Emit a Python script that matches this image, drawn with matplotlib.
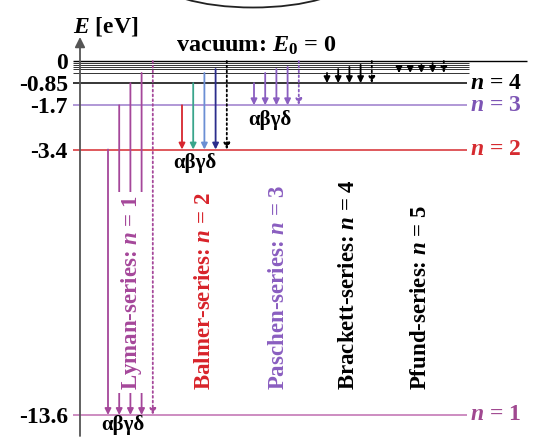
import matplotlib
matplotlib.use("Agg")
import matplotlib.pyplot as plt
from matplotlib.patches import Ellipse

plt.rcParams["font.family"] = ["Liberation Serif", "DejaVu Serif"]
plt.rcParams["font.weight"] = "bold"
plt.rcParams["mathtext.fontset"] = "custom"
plt.rcParams["mathtext.rm"] = "Liberation Serif:bold"
plt.rcParams["mathtext.it"] = "Liberation Serif:italic:bold"
plt.rcParams["mathtext.bf"] = "Liberation Serif:bold"

# ---------------------------------------------------------------------------
# Data: hydrogen energy levels (eV), n = 1 .. 9 as drawn, plus the vacuum limit
# ---------------------------------------------------------------------------
levels = [-13.6, -3.4, -1.7, -0.85, -0.46, -0.31, -0.23, -0.15, -0.08]
vacuum = 0.0
tick_vals = [0, -0.85, -1.7, -3.4, -13.6]
tick_labels = ["0", "-0.85", "-1.7", "-3.4", "-13.6"]

# series: lower level n, upper levels for alpha..delta (last arrow from vacuum)
series_names = ["Lyman", "Balmer", "Paschen", "Brackett", "Pfund"]
series_lower = [1, 2, 3, 4, 5]
series_upper = [[2, 3, 4, 5], [3, 4, 5, 6], [4, 5, 6, 7], [5, 6, 7, 8], [6, 7, 8, 9]]

# ---------------------------------------------------------------------------
# Layout (x in pixels, y in eV)
# ---------------------------------------------------------------------------
PX = 13.6 / 354.0  # eV per pixel
def py(p):
    return -(p - 61) * PX

series_x0 = [108, 182, 254, 327, 399]
dx = 11.2
arrow_colors = [
    ["#a5479a"] * 5,
    ["#d7262e", "#39a58b", "#6b8fd4", "#2b2d8c", "black"],
    ["#8a5ec0"] * 5,
    ["black"] * 5,
    ["black"] * 5,
]
label_colors = ["#a5479a", "#d8232a", "#8a5ec0", "black", "black"]
label_x = [132, 205, 278, 348, 420]

level_colors = ["#c06db0", "#d62b30", "#9b7ccc", "black"] + ["#333333"] * 5
name_colors = ["#a04890", "#d62b30", "#7d55b5", "black"]

fig = plt.figure(figsize=(5.33, 4.37), dpi=100)
ax = fig.add_axes([70 / 533, 0, 463 / 533, 1])
ax.set_xlim(70, 533)
ax.set_ylim(py(437), py(0))
for s in ax.spines.values():
    s.set_visible(False)
ax.set_xticks([])
ax.set_yticks(tick_vals)
ax.set_yticklabels(tick_labels)
ax.tick_params(axis="y", length=0, pad=1.5, labelsize=17)

# energy axis with arrow
ax.annotate("", xy=(80, py(37)), xytext=(80, py(436)),
            arrowprops=dict(arrowstyle="-|>", color="#555555", lw=1.3,
                            mutation_scale=15, shrinkA=0, shrinkB=0),
            annotation_clip=False, zorder=2)

# level lines
ax.hlines(vacuum, 73, 527, color="black", lw=1.0, zorder=1)
for i, e in enumerate(levels):
    end = 467 if i < 4 else 469
    lw = 1.1 if i < 4 else 0.7
    ax.hlines(e, 73, end, color=level_colors[i], lw=lw, zorder=1)
    if i < 4:
        ax.text(470, e, f"$n$ = {i + 1}", ha="left", va="center",
                fontsize=17, color=name_colors[i])

# transition arrows
for k in range(5):
    lo = levels[series_lower[k] - 1]
    starts = [levels[u - 1] for u in series_upper[k]] + [vacuum]
    for j, e0 in enumerate(starts):
        x = series_x0[k] + j * dx
        ls = ":" if j == 4 else "-"
        ax.annotate("", xy=(x, lo), xytext=(x, e0),
                    arrowprops=dict(arrowstyle="-|>", color=arrow_colors[k][j],
                                    lw=1.3, ls=ls, mutation_scale=9,
                                    shrinkA=0, shrinkB=0),
                    zorder=3)

# series labels
for k in range(5):
    txt = f"{series_names[k]}-series: $n$ = {series_lower[k]}"
    bbox = dict(facecolor="white", edgecolor="none", pad=2) if k == 0 else None
    ax.text(label_x[k], py(390), txt, rotation=90, ha="center", va="bottom",
            fontsize=16.5, color=label_colors[k], bbox=bbox, zorder=5)

# alpha beta gamma delta markers
for (x, p) in [(123, 425), (195, 163), (270, 120)]:
    ax.text(x, py(p), "αβγδ", ha="center", va="center", fontsize=15, color="black")

fig.text(73 / 533, 1 - 26 / 437, "$E$ [eV]", ha="left", va="center", fontsize=17)
fig.text(176 / 533, 1 - 52 / 437, "vacuum: $E_0$ = 0", ha="left", va="baseline",
         fontsize=17.5)

# cut-off ellipse at the top
fig.patches.append(Ellipse((253 / 533, 1 + 22.5 / 437), 2 * 97 / 533, 2 * 30 / 437,
                           transform=fig.transFigure, fill=False, ec="#222222", lw=1.3))

fig.savefig("out.png", dpi=100)
